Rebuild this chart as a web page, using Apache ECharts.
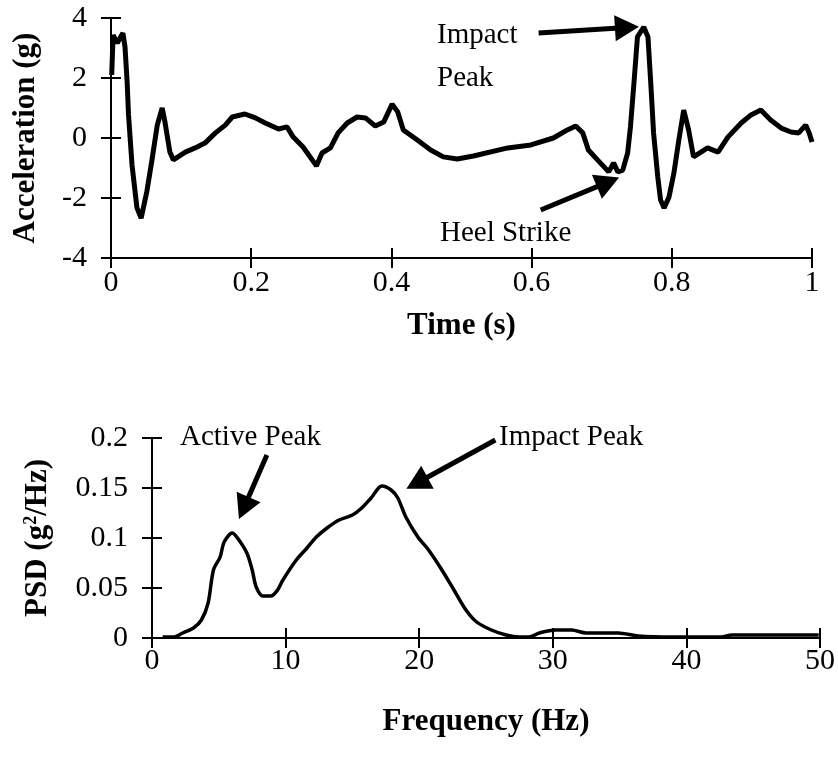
<!DOCTYPE html>
<html><head><meta charset="utf-8">
<script src="https://cdn.jsdelivr.net/npm/echarts@6/dist/echarts.min.js"></script>
<style>html,body{margin:0;padding:0;background:#fff}#c{width:838px;height:761px}</style>
</head><body><div id="c"></div>
<script>
// Top chart: acceleration vs time
const timeS = [0.001,0.003,0.009,0.017,0.02,0.023,0.025,0.03,0.037,0.043,0.051,0.058,0.066,0.073,0.077,0.084,0.089,0.106,0.12,0.134,0.149,0.163,0.173,0.191,0.206,0.22,0.239,0.251,0.26,0.274,0.287,0.293,0.301,0.313,0.324,0.337,0.351,0.363,0.377,0.389,0.401,0.409,0.417,0.437,0.456,0.474,0.494,0.517,0.566,0.599,0.631,0.651,0.663,0.673,0.681,0.694,0.71,0.717,0.723,0.73,0.737,0.741,0.746,0.751,0.76,0.766,0.77,0.774,0.78,0.784,0.789,0.796,0.803,0.81,0.817,0.824,0.831,0.851,0.866,0.88,0.899,0.913,0.927,0.941,0.956,0.97,0.981,0.991,0.996,1.0];
const accelG = [2.1,3.43,3.17,3.5,3.03,1.87,0.77,-0.9,-2.33,-2.67,-1.8,-0.8,0.43,1.0,0.53,-0.47,-0.73,-0.47,-0.33,-0.17,0.17,0.43,0.7,0.8,0.67,0.5,0.3,0.37,0.03,-0.3,-0.73,-0.93,-0.5,-0.33,0.17,0.5,0.7,0.67,0.4,0.53,1.13,0.87,0.27,-0.07,-0.4,-0.63,-0.7,-0.6,-0.33,-0.23,0,0.27,0.4,0.17,-0.4,-0.73,-1.13,-0.83,-1.13,-1.07,-0.5,0.37,1.83,3.37,3.7,3.37,1.83,0.17,-1.3,-2.07,-2.33,-1.97,-1.17,-0.07,0.93,0.27,-0.63,-0.33,-0.47,0.03,0.5,0.77,0.93,0.6,0.33,0.2,0.17,0.43,0.17,-0.13];
// Bottom chart: PSD vs frequency
const freqHz = [0.8,1.6,2.3,3.1,3.7,4.2,4.6,5.1,5.4,6.0,6.4,7.1,7.5,7.8,8.3,8.9,9.4,9.8,10.8,11.6,12.3,13.1,14.0,15.0,15.7,16.4,17.2,17.9,18.4,19.0,19.9,20.7,21.7,22.6,23.5,24.3,25.4,26.5,27.5,28.2,29.0,30.2,31.4,32.5,34.9,36.4,38.9,42.6,43.4,49.9];
const psdVal = [0.001,0.001,0.005,0.010,0.018,0.035,0.068,0.081,0.096,0.105,0.1,0.085,0.068,0.051,0.042,0.042,0.048,0.058,0.078,0.09,0.101,0.11,0.118,0.123,0.13,0.14,0.152,0.148,0.14,0.121,0.101,0.088,0.068,0.048,0.028,0.016,0.008,0.003,0.001,0.001,0.005,0.008,0.008,0.005,0.005,0.002,0.001,0.001,0.003,0.003];
// Annotation arrows (data coordinates: [from, to])
const topArrows = [[[0.61,3.5],[0.736,3.68]], [[0.613,-2.4],[0.709,-1.47]]];
const bottomArrows = [[[8.6,0.183],[6.87,0.130]], [[25.7,0.198],[19.83,0.155]]];

const FONT = '"Liberation Serif","Times New Roman",serif';
const lab = {color:'#000', fontFamily:FONT, fontSize:30};
const ttl = {color:'#000', fontFamily:FONT, fontSize:31, fontWeight:'bold'};
const axLine = {onZero:false, lineStyle:{color:'#000', width:2}};
const tk = {show:true, length:10, lineStyle:{color:'#000', width:2}};

function xPair(grid, min, max, interval, name, gap, margin) {
  return [
    {type:'value', gridIndex:grid, position:'bottom', min, max, interval, name, nameLocation:'middle', nameGap:gap, nameTextStyle:ttl,
     axisLine:axLine, axisTick:tk, axisLabel:Object.assign({margin}, lab), splitLine:{show:false}},
    {type:'value', gridIndex:grid, position:'bottom', min, max, interval,
     axisLine:{show:false, onZero:false}, axisTick:Object.assign({inside:true}, tk), axisLabel:{show:false}, splitLine:{show:false}}
  ];
}
function yPair(grid, min, max, interval, name, gap, margin, extra) {
  return [
    {type:'value', gridIndex:grid, position:'left', min, max, interval, name, nameLocation:'middle', nameGap:gap,
     nameTextStyle:Object.assign({}, ttl, extra||{}),
     axisLine:axLine, axisTick:tk, axisLabel:Object.assign({margin}, lab), splitLine:{show:false}},
    {type:'value', gridIndex:grid, position:'left', min, max, interval,
     axisLine:{show:false, onZero:false}, axisTick:Object.assign({inside:true}, tk), axisLabel:{show:false}, splitLine:{show:false}}
  ];
}
function arrows(list) {
  return {
    silent:true, animation:false, symbol:['none','triangle'], symbolSize:[26,24],
    lineStyle:{color:'#000', width:5, type:'solid'}, label:{show:false},
    itemStyle:{color:'#000'},
    data: list.map(a => [{coord:a[0]}, {coord:a[1]}])
  };
}

const AFONT = '29px ' + FONT;
const chart = echarts.init(document.getElementById('c'));
chart.setOption({
  backgroundColor:'#fff',
  animation:false,
  grid:[
    {left:111, top:18, width:701, height:240},
    {left:152, top:438, width:668, height:200}
  ],
  xAxis:[].concat(
    xPair(0, 0, 1, 0.2, 'Time (s)', 52, 10),
    xPair(1, 0, 50, 10, 'Frequency (Hz)', 68, 8)
  ),
  yAxis:[].concat(
    yPair(0, -4, 4, 2, 'Acceleration (g)', 70, 24),
    yPair(1, 0, 0.2, 0.05, 'PSD (g{sup|2}/Hz)', 98, 24,
      {rich:{sup:{fontSize:18, fontWeight:'bold', fontFamily:FONT, color:'#000', verticalAlign:'top', padding:[0,0,14,0]}}})
  ),
  series:[
    {type:'line', xAxisIndex:0, yAxisIndex:0, showSymbol:false, symbol:'none',
     lineStyle:{color:'#000', width:5}, data: timeS.map((t,i)=>[t, accelG[i]]),
     markLine: arrows(topArrows)},
    {type:'line', xAxisIndex:2, yAxisIndex:2, showSymbol:false, symbol:'none', smooth:0.3,
     lineStyle:{color:'#000', width:3.5}, data: freqHz.map((f,i)=>[f, psdVal[i]]),
     markLine: arrows(bottomArrows)}
  ],
  graphic:[
    {type:'text', style:{text:'Impact', x:437, y:35, font:AFONT, fill:'#000', textVerticalAlign:'middle'}},
    {type:'text', style:{text:'Peak', x:437, y:78, font:AFONT, fill:'#000', textVerticalAlign:'middle'}},
    {type:'text', style:{text:'Heel Strike', x:440, y:233, font:AFONT, fill:'#000', textVerticalAlign:'middle'}},
    {type:'text', style:{text:'Active Peak', x:180, y:437, font:AFONT, fill:'#000', textVerticalAlign:'middle'}},
    {type:'text', style:{text:'Impact Peak', x:499, y:437, font:AFONT, fill:'#000', textVerticalAlign:'middle'}}
  ]
});
</script></body></html>
